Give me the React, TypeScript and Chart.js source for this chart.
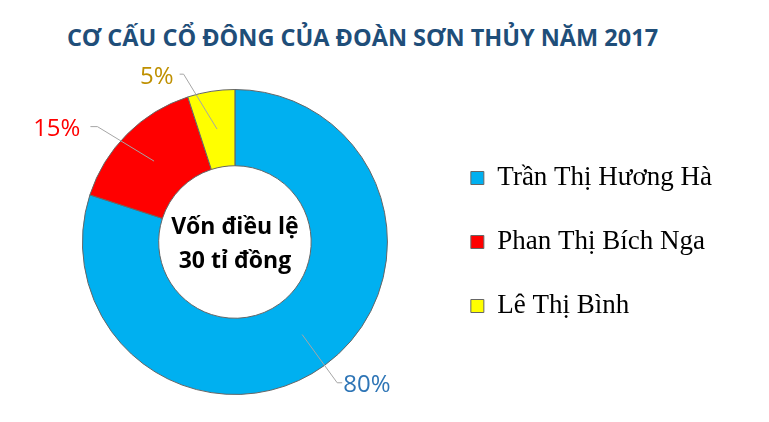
import React, { useEffect, useRef } from 'react';
import Chart from 'chart.js/auto';

const chartTitle = 'CƠ CẤU CỔ ĐÔNG CỦA ĐOÀN SƠN THỦY NĂM 2017';
const owners = ['Trần Thị Hương Hà', 'Phan Thị Bích Nga', 'Lê Thị Bình'];
const shares = [80, 15, 5];
const sliceColors = ['#00B0F0', '#FF0000', '#FFFF00'];
const labelColors = ['#2E75B6', '#FF0000', '#BF9000'];
const centerLines = ['Vốn điều lệ', '30 tỉ đồng'];

// where each leader line bends (angle nudge in deg, distance past the ring),
// how long its horizontal tail is and the gap before the text
const labelNudge = [
  { angle: 0, out: 21.5, tail: 5, gap: 1 },
  { angle: -5, out: 27, tail: 7, gap: 10 },
  { angle: -8, out: 23, tail: 4, gap: 6 },
];

const centerText = {
  id: 'centerText',
  afterDatasetsDraw(chart: any) {
    const arc = chart.getDatasetMeta(0).data[0];
    if (!arc) return;
    const { x, y } = arc;
    const ctx = chart.ctx;
    ctx.save();
    ctx.font = 'bold 23px "Open Sans"';
    ctx.fillStyle = '#000';
    ctx.textAlign = 'center';
    ctx.textBaseline = 'alphabetic';
    ctx.fillText(centerLines[0], x, y - 8);
    ctx.fillText(centerLines[1], x, y + 26);
    ctx.restore();
  },
};

const leaderLabels = {
  id: 'leaderLabels',
  afterDatasetsDraw(chart: any) {
    const ctx = chart.ctx;
    const meta = chart.getDatasetMeta(0);
    const total = shares.reduce((a, b) => a + b, 0);
    meta.data.forEach((arc: any, i: number) => {
      const { x, y, startAngle, endAngle, outerRadius } = arc.getProps(
        ['x', 'y', 'startAngle', 'endAngle', 'outerRadius'],
        true
      );
      const nudge = labelNudge[i];
      const from = arc.getCenterPoint(true);
      const a = (startAngle + endAngle) / 2 + (nudge.angle * Math.PI) / 180;
      const r = outerRadius + nudge.out;
      const ex = x + Math.cos(a) * r;
      const ey = y + Math.sin(a) * r;
      const dir = ex >= x ? 1 : -1;
      const tx = ex + dir * nudge.tail;

      ctx.save();
      ctx.strokeStyle = '#A6A6A6';
      ctx.lineWidth = 1;
      ctx.beginPath();
      ctx.moveTo(from.x, from.y);
      ctx.lineTo(ex, ey);
      ctx.lineTo(tx, ey);
      ctx.stroke();

      ctx.font = '24px "Open Sans"';
      ctx.fillStyle = labelColors[i];
      ctx.textAlign = dir > 0 ? 'left' : 'right';
      ctx.textBaseline = 'middle';
      ctx.fillText(Math.round((shares[i] / total) * 100) + '%', tx + dir * nudge.gap, ey + 2.5);
      ctx.restore();
    });
  },
};

const App: React.FC = () => {
  const canvasRef = useRef<HTMLCanvasElement | null>(null);
  const chartRef = useRef<Chart | null>(null);

  useEffect(() => {
    if (!canvasRef.current) return;
    const ctx = canvasRef.current.getContext('2d');

    chartRef.current = new Chart(ctx!, {
      type: 'doughnut',
      data: {
        labels: owners,
        datasets: [{
          data: shares,
          backgroundColor: sliceColors,
          borderColor: '#666666',
          borderWidth: 1,
        }],
      },
      options: {
        responsive: false,
        animation: false,
        cutout: '50%',
        layout: { padding: { top: 89, bottom: 27, left: 36, right: 47 } },
        plugins: {
          legend: {
            position: 'right',
            labels: {
              boxWidth: 13,
              boxHeight: 13,
              padding: 37,
              color: '#000',
              font: { family: '"Liberation Serif", serif', size: 27 },
            },
          },
          tooltip: { enabled: false },
          title: { display: false },
        },
      },
      plugins: [centerText, leaderLabels],
    });

    return () => {
      if (chartRef.current) {
        chartRef.current.destroy();
        chartRef.current = null;
      }
    };
  }, []);

  return (
    <div style={{ position: 'absolute', left: 0, top: 0, width: 769, height: 422, background: '#fff' }}>
      <div
        style={{
          position: 'absolute',
          left: 0,
          top: 21,
          width: 725,
          textAlign: 'center',
          font: 'bold 23.5px "Open Sans"',
          lineHeight: '32px',
          color: '#1F4E79',
          whiteSpace: 'nowrap',
        }}
      >
        {chartTitle}
      </div>
      <canvas ref={canvasRef} width={769} height={422} style={{ position: 'absolute', left: 0, top: 0 }} />
    </div>
  );
};

export default App;
